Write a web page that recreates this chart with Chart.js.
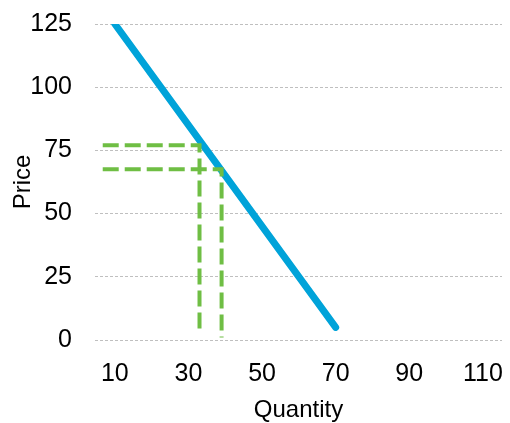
<!DOCTYPE html>
<html lang="en">
<head>
  <meta charset="UTF-8">
  <title>Price vs Quantity</title>
  <script src="https://cdn.jsdelivr.net/npm/chart.js"></script>
  <style>
    body { margin: 0; background: #fff; }
    #wrap { width: 510px; height: 423px; }
  </style>
</head>
<body>
  <div id="wrap"><canvas id="demandChart"></canvas></div>
  <script>
    // demand curve
    const demandQty = [10, 70];
    const demandPrice = [125, 5];
    // dashed guide lines (horizontal then vertical)
    const guide1Qty = [6.7, 33, 33];
    const guide1Price = [77, 77, 3.5];
    const guide2Qty = [6.7, 39, 39];
    const guide2Price = [67.5, 67.5, 1];
    // axis ticks
    const xTicks = [10, 30, 50, 70, 90, 110];
    const yTicks = [0, 25, 50, 75, 100, 125];

    const pts = (xs, ys) => xs.map((x, i) => ({ x: x, y: ys[i] }));
    const tickFont = { family: "'Liberation Sans', Arial, sans-serif", size: 25 };
    const titleFont = { family: "'Liberation Sans', Arial, sans-serif", size: 24 };
    const green = '#6FBE44';

    const guideStyle = {
      borderColor: green,
      borderWidth: 4,
      borderDash: [16, 6],
      pointRadius: 0,
      fill: false
    };

    new Chart(document.getElementById('demandChart'), {
      type: 'scatter',
      data: {
        datasets: [
          Object.assign({ data: pts(guide1Qty, guide1Price), showLine: true }, guideStyle),
          Object.assign({ data: pts(guide2Qty, guide2Price), showLine: true }, guideStyle),
          {
            data: pts(demandQty, demandPrice),
            showLine: true,
            borderColor: '#00A3D9',
            borderWidth: 7,
            borderCapStyle: 'round',
            pointRadius: 0
          }
        ]
      },
      options: {
        responsive: true,
        maintainAspectRatio: false,
        animation: false,
        layout: { padding: { top: 24, right: 8, bottom: 0, left: 0 } },
        plugins: { legend: { display: false }, tooltip: { enabled: false } },
        scales: {
          x: {
            type: 'linear',
            min: 4.6,
            max: 115.2,
            afterBuildTicks: s => { s.ticks = xTicks.map(v => ({ value: v })); },
            grid: { display: false, drawTicks: false },
            border: { display: false },
            ticks: { color: '#000', font: tickFont, padding: 19, maxRotation: 0 },
            title: { display: true, text: 'Quantity', color: '#000', font: titleFont, padding: { top: 0, bottom: -2 } },
            afterFit: s => { s.height = 83; s.paddingLeft = 0; s.paddingRight = 0; }
          },
          y: {
            min: 0,
            max: 125,
            afterBuildTicks: s => { s.ticks = yTicks.map(v => ({ value: v })); },
            grid: { color: '#BFBFBF', lineWidth: 1, drawTicks: false },
            border: { display: false, dash: [3, 2] },
            ticks: { color: '#000', font: tickFont, padding: 23 },
            title: { display: true, text: 'Price', color: '#000', font: titleFont, padding: { top: 9, bottom: 0 } },
            afterFit: s => { s.width = 95; s.paddingTop = 0; s.paddingBottom = 0; }
          }
        }
      }
    });
  </script>
</body>
</html>
